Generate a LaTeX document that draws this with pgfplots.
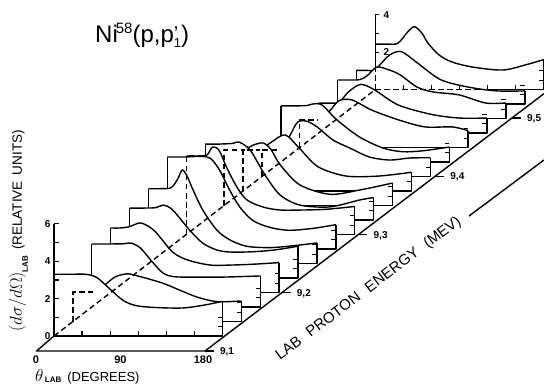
\documentclass[border=0pt]{standalone}
\usepackage{pgfplots}
\pgfplotsset{compat=1.18}
\usepackage{pgfplotstable}
\usepackage{fontspec}
\setmainfont{Liberation Sans}

\pgfplotsset{
  cv/.style={x filter/.expression={x+20.192*#1}, y filter/.expression={y+0.7754*#1}},
}

% angular distributions, theta (deg) vs relative cross section; one table per energy step
\pgfplotstableread{
t v
0 3.3
18 3.3
34 3.3
46 3.12
60 2.5
74 1.9
88 1.62
110 1.52
138 1.5
160 1.65
180 1.85
}\cA
\pgfplotstableread{
t v
0 1.58
12 1.58
24 1.6
34 1.95
45 2.38
58 2.55
72 2.4
96 2.05
114 1.68
133 1.3
154 1.06
180 1.1
}\cB
\pgfplotstableread{
t v
0 3.37
18 3.37
34 3.38
42 3.42
52 3.15
64 2.45
76 1.82
88 1.62
110 1.6
140 1.6
180 1.66
}\cC
\pgfplotstableread{
t v
0 3.45
10 3.45
20 3.52
31 3.72
40 3.55
49 3.18
66 2.17
82 1.74
106 1.47
130 1.47
155 1.52
180 1.6
}\cD
\pgfplotstableread{
t v
0 3.74
14 3.74
28 3.76
36 3.9
46 3.64
64 2.57
78 1.87
93 1.5
107 1.39
130 1.4
155 1.5
180 1.7
}\cE
\pgfplotstableread{
t v
0 4.0
12 4.0
24 4.05
31 4.5
36 5.0
41 4.7
47 4.0
58 2.86
73 1.79
87 1.26
105 0.92
130 0.85
155 0.95
180 1.1
}\cF
\pgfplotstableread{
t v
0 4.92
18 4.92
36 4.95
46 4.85
56 4.2
66 3.2
78 2.2
92 1.5
110 1.15
130 1.0
155 1.1
180 1.3
}\cG
\pgfplotstableread{
t v
0 4.2
12 4.2
22 4.25
28 4.68
35 4.5
43 3.6
54 2.54
65 1.84
82 1.47
100 1.31
125 1.31
150 1.35
180 1.5
}\cH
\pgfplotstableread{
t v
0 4.06
15 4.06
30 4.1
36 4.17
48 3.74
64 2.4
80 1.34
101 0.8
133 0.7
165 1.07
180 1.2
}\cI
\pgfplotstableread{
t v
0 2.97
12 2.97
24 3.05
32 3.25
42 3.34
50 3.0
60 2.17
81 1.1
113 0.6
145 0.83
180 1.2
}\cJ
\pgfplotstableread{
t v
0 2.19
10 2.19
20 2.25
30 2.6
45 3.0
60 2.3
80 1.3
110 0.8
145 0.8
180 1.0
}\cK
\pgfplotstableread{
t v
0 1.42
10 1.42
20 1.45
28 2.0
38 2.9
48 2.95
59 2.65
76 1.95
94 1.52
115 1.04
137 0.88
158 0.99
180 1.0
}\cL
\pgfplotstableread{
t v
0 3.0
14 3.0
28 3.02
34 3.1
44 3.05
60 2.25
84 1.34
109 0.75
130 0.55
152 0.6
180 0.8
}\cM
\pgfplotstableread{
t v
0 1.47
12 1.47
22 1.5
32 1.95
42 2.5
56 2.54
77 2.0
106 1.47
134 1.1
163 1.1
180 0.9
}\cN
\pgfplotstableread{
t v
0 1.6
12 1.6
22 1.65
32 2.2
45 2.6
60 2.3
85 1.5
120 1.0
150 0.8
180 0.8
}\cO
\pgfplotstableread{
t v
0 2.06
12 2.06
24 2.08
32 2.3
42 2.75
55 2.6
67 2.33
85 1.68
102 1.42
130 1.26
158 0.83
180 0.83
}\cP
\pgfplotstableread{
t v
0 1.8
10 1.8
20 1.85
35 2.6
48 2.8
65 2.2
90 1.3
120 0.9
150 0.7
180 0.7
}\cQ
\pgfplotstableread{
t v
0 2.43
12 2.43
24 2.47
35 3.1
42 3.36
50 3.0
56 2.5
68 1.85
82 1.47
104 1.2
136 1.04
160 1.31
180 1.6
}\cR

% one panel: k, table, value at 0 deg, value at 180 deg
\newcommand\curve[4]{%
  \addplot[cv=#1, smooth, fill=white, draw=none] table {#2} \closedcycle;
  \addplot[black, cv=#1, smooth] table {#2};
  \addplot[black, cv=#1] coordinates {(0,#3) (0,0) (180,0) (180,#4)};
  \addplot[black, cv=#1, line width=1pt] coordinates {(180,0.5)(175,0.5) (nan,nan) (180,1)(175,1)};
}
\newcommand\dstep[3]{%
  \addplot[black, cv=#1, dash pattern=on 5.5pt off 3.5pt] coordinates {(0,0) (0,#2) (#3,#2)};
}

\begin{document}
\begin{tikzpicture}
\begin{axis}[
  x=0.936pt, y=18.7pt,
  xmin=0, xmax=180, ymin=0, ymax=6,
  axis lines=left, axis line style={-, line width=1.4pt},
  axis on top, clip=false,
  xtick={30,60,90,120,150}, xticklabels={},
  ytick={0,1,2,3,4,5,6}, yticklabels={0,,2,,4,,6},
  tick align=inside, major tick length=5pt,
  every tick/.style={black, line width=1.2pt},
  tick label style={font=\bfseries\fontsize{10}{10}\selectfont},
  /pgf/number format/assume math mode=true,
  unbounded coords=jump,
  every axis plot/.append style={black, line width=1.4pt, line join=round, mark=none},
]
% back panel first (painter's order)
\curve{17}{\cR}{2.43}{1.6}
\addplot[black] coordinates {(343.26,13.18) (343.26,17.18)};
\addplot[black, line width=1.2pt] coordinates {(343.26,14.18)(347.6,14.18) (nan,nan) (343.26,15.18)(347.6,15.18) (nan,nan) (343.26,16.18)(347.6,16.18) (nan,nan) (343.26,17.18)(347.6,17.18)};
\curve{16}{\cQ}{1.8}{0.7}
\curve{15}{\cP}{2.06}{0.83}
\curve{14}{\cO}{1.6}{0.8}
\curve{13}{\cN}{1.47}{0.9}
\curve{12}{\cM}{3.0}{0.8}
\curve{11}{\cL}{1.42}{1.0}
\curve{10}{\cK}{2.19}{1.0}
\curve{9}{\cJ}{2.97}{1.2}
\curve{8}{\cI}{4.06}{1.2}
\curve{7}{\cH}{4.2}{1.5}
\curve{6}{\cG}{4.92}{1.3}
\curve{5}{\cF}{4.0}{1.1}
\curve{4}{\cE}{3.74}{1.7}
\curve{3}{\cD}{3.45}{1.6}
\curve{2}{\cC}{3.37}{1.66}
\curve{1}{\cB}{1.58}{1.1}
\curve{0}{\cA}{3.3}{1.85}
% hidden edges, dashed
\dstep{1}{1.58}{22}
\dstep{7}{4.2}{20}
\dstep{9}{2.97}{22}
\dstep{10}{2.19}{18}
\dstep{11}{1.42}{18}
\dstep{13}{1.47}{20}
\addplot[black, dash pattern=on 5.5pt off 3.5pt] coordinates {(0,0) (343.26,13.18)};
\addplot[black, dash pattern=on 5.5pt off 3.5pt] coordinates {(343.26,13.18) (523.26,13.18)};
\addplot[black, dash pattern=on 5.5pt off 3.5pt] coordinates {(343.26,13.18) (343.26,15.6)};
\addplot[black, line width=1.2pt] coordinates {(373.26,13.18)(373.26,13.40) (nan,nan) (403.26,13.18)(403.26,13.40) (nan,nan) (433.26,13.18)(433.26,13.40) (nan,nan) (463.26,13.18)(463.26,13.40) (nan,nan) (493.26,13.18)(493.26,13.40)};
% base plane
\addplot[black] coordinates {(0,0) (-18.7,-0.802) (161.3,-0.802) (523.5,12.96)};
\addplot[black] coordinates {(161.3,-0.802)(170.9,-0.802) (nan,nan) (243.3,2.313)(252.9,2.313) (nan,nan) (325.3,5.428)(334.9,5.428) (nan,nan) (407.3,8.543)(416.9,8.543) (nan,nan) (489.3,11.658)(498.9,11.658)};
\addplot[black] coordinates {(443.4,6.417) (523.5,9.412)};
% labels
\node[anchor=base, inner sep=0pt, font=\bfseries\fontsize{11}{11}\selectfont] at (axis cs:-19.2,-1.444) {0};
\node[anchor=base, inner sep=0pt, font=\bfseries\fontsize{11}{11}\selectfont] at (axis cs:71,-1.444) {90};
\node[anchor=base, inner sep=0pt, font=\bfseries\fontsize{11}{11}\selectfont] at (axis cs:159.2,-1.444) {180};
\node[anchor=base west, inner sep=0pt, font=\bfseries\fontsize{10}{10}\selectfont] at (axis cs:177.3,-0.99) {9,1};
\node[anchor=base west, inner sep=0pt, font=\bfseries\fontsize{10}{10}\selectfont] at (axis cs:259.3,2.12) {9,2};
\node[anchor=base west, inner sep=0pt, font=\bfseries\fontsize{10}{10}\selectfont] at (axis cs:341.3,5.24) {9,3};
\node[anchor=base west, inner sep=0pt, font=\bfseries\fontsize{10}{10}\selectfont] at (axis cs:423.3,8.35) {9,4};
\node[anchor=base west, inner sep=0pt, font=\bfseries\fontsize{10}{10}\selectfont] at (axis cs:505.3,11.47) {9,5};
\node[anchor=base west, inner sep=0pt, font=\bfseries\fontsize{10}{10}\selectfont] at (axis cs:352,17.0) {4};
\node[anchor=base west, inner sep=0pt, font=\bfseries\fontsize{10}{10}\selectfont] at (axis cs:352,14.99) {2};
\node[anchor=base west, inner sep=0pt, font=\fontsize{24}{24}\selectfont] at (axis cs:43.8,15.67)
  {Ni\kern-2pt\raisebox{9.5pt}{\fontsize{15}{15}\selectfont 58}(p,p\rlap{\raisebox{2pt}{\fontsize{20}{20}\selectfont\textquoteright}}\raisebox{-5pt}{\fontsize{13}{13}\selectfont 1})};
\node[rotate=90, anchor=base west, inner sep=0pt] at (axis cs:-34.2,0.214)
  {\fontsize{16}{16}\selectfont$(d\sigma/d\Omega)$\raisebox{-6pt}{\fontsize{8}{8}\selectfont\bfseries LAB}\hspace{6pt}\fontsize{13.5}{13.5}\selectfont(RELATIVE\hspace{6pt}UNITS)};
\node[anchor=base west, inner sep=0pt] at (axis cs:-20.3,-2.43)
  {\fontsize{17}{17}\selectfont$\theta$\raisebox{-1.5pt}{\fontsize{8}{8}\selectfont\bfseries\,LAB}\hspace{6pt}\fontsize{13}{13}\selectfont(DEGREES)};
\node[rotate=37.2, anchor=base west, inner sep=0pt, font=\fontsize{15}{15}\selectfont] at (axis cs:241.5,-1.337)
  {LAB\hspace{10pt}PROTON\hspace{10pt}ENERGY\hspace{10pt}(MEV)};
\coordinate (BL) at (axis cs:-57.69,-2.674);
\coordinate (TR) at (axis cs:523.5,17.968);
\end{axis}
\pgfresetboundingbox
\useasboundingbox (BL) rectangle (TR);
\end{tikzpicture}
\end{document}
